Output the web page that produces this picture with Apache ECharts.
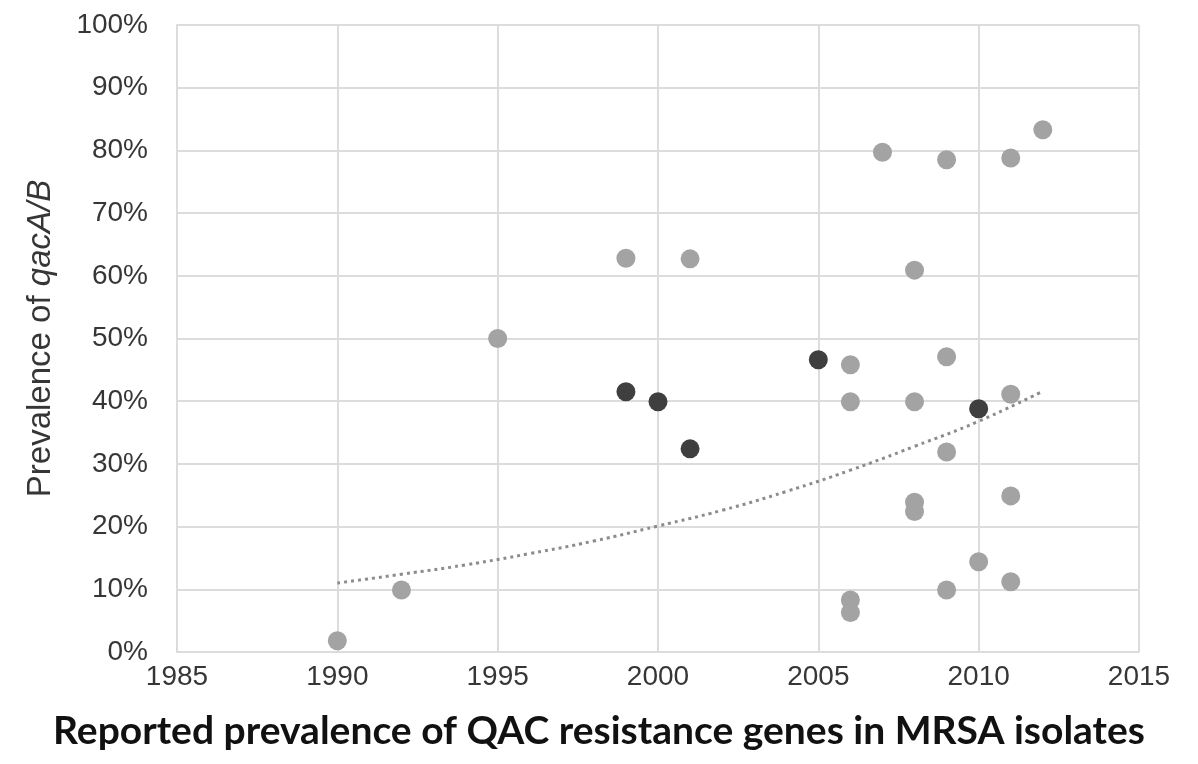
<!DOCTYPE html>
<html>
<head>
<meta charset="utf-8">
<script src="https://cdn.jsdelivr.net/npm/echarts@6/dist/echarts.min.js"></script>
<style>
  html, body { margin: 0; padding: 0; background: #fff; }
  #chart { width: 1198px; height: 764px; }
</style>
</head>
<body>
<div id="chart"></div>
<script>
// light grey studies: [year, prevalence %]
var lightYears = [1990, 1992, 1995, 1999, 2001, 2006, 2006, 2006, 2006, 2007, 2008, 2008, 2008, 2008, 2009, 2009, 2009, 2009, 2010, 2011, 2011, 2011, 2011, 2012];
var lightValues = [1.8, 9.9, 50, 62.8, 62.7, 45.8, 39.9, 8.3, 6.3, 79.7, 60.9, 39.9, 23.9, 22.4, 78.5, 47.1, 31.9, 9.9, 14.4, 78.8, 41.1, 24.9, 11.2, 83.3];

// dark grey studies
var darkYears = [1999, 2000, 2001, 2005, 2010];
var darkValues = [41.5, 39.9, 32.4, 46.6, 38.8];

// dotted trend line
var trendYears = [1990, 1992, 1994, 1996, 1998, 2000, 2002, 2004, 2006, 2008, 2010, 2012];
var trendValues = [11, 12.4, 13.9, 15.7, 17.7, 20.1, 22.6, 25.6, 29, 32.8, 36.8, 41.6];

var xTicks = [1985, 1990, 1995, 2000, 2005, 2010, 2015];
var yTicks = [0, 10, 20, 30, 40, 50, 60, 70, 80, 90, 100];

function pairs(xs, ys) {
    return xs.map(function (x, i) { return [x, ys[i]]; });
}

var chart = echarts.init(document.getElementById('chart'));

var gridColor = '#dcdcdc';
var labelColor = '#363636';

var option = {
    animation: false,
    backgroundColor: '#fff',
    title: {
        text: 'Reported prevalence of QAC resistance genes in MRSA isolates',
        left: 'center',
        top: 707,
        textStyle: {
            fontFamily: 'Lato',
            fontWeight: 'bold',
            fontSize: 39,
            color: '#111'
        }
    },
    grid: { left: 177, right: 59, top: 25, bottom: 112 },
    xAxis: {
        type: 'value',
        min: xTicks[0],
        max: xTicks[xTicks.length - 1],
        interval: 5,
        axisLine: { show: true, lineStyle: { color: gridColor, width: 2 } },
        axisTick: { show: false },
        splitLine: { show: true, lineStyle: { color: gridColor, width: 2 } },
        axisLabel: {
            margin: 11,
            fontFamily: 'Liberation Sans',
            fontSize: 28,
            color: labelColor,
            showMinLabel: true,
            showMaxLabel: true,
            formatter: function (v) { return String(v); }
        }
    },
    yAxis: {
        type: 'value',
        min: yTicks[0],
        max: yTicks[yTicks.length - 1],
        interval: 10,
        axisLine: { show: true, lineStyle: { color: gridColor, width: 2 } },
        axisTick: { show: false },
        splitLine: { show: true, lineStyle: { color: gridColor, width: 2 } },
        axisLabel: {
            margin: 29,
            fontFamily: 'Liberation Sans',
            fontSize: 28,
            color: labelColor,
            formatter: '{value}%'
        },
        name: '{a|Prevalence of }{b|qacA/B}',
        nameLocation: 'middle',
        nameRotate: 90,
        nameGap: 120,
        nameTextStyle: {
            rich: {
                a: { fontFamily: 'Liberation Sans', fontSize: 33, color: labelColor },
                b: { fontFamily: 'Liberation Sans', fontSize: 33, color: labelColor, fontStyle: 'italic' }
            }
        }
    },
    series: [
        {
            name: 'trend',
            type: 'line',
            smooth: true,
            symbol: 'none',
            data: pairs(trendYears, trendValues),
            lineStyle: { color: '#8c8c8c', width: 3, type: [3, 4] },
            z: 1
        },
        {
            name: 'light',
            type: 'scatter',
            symbolSize: 19,
            data: pairs(lightYears, lightValues),
            itemStyle: { color: '#a3a3a3', opacity: 1 },
            z: 2
        },
        {
            name: 'dark',
            type: 'scatter',
            symbolSize: 19,
            data: pairs(darkYears, darkValues),
            itemStyle: { color: '#3f3f3f', opacity: 1 },
            z: 3
        }
    ]
};

chart.setOption(option);
</script>
</body>
</html>
